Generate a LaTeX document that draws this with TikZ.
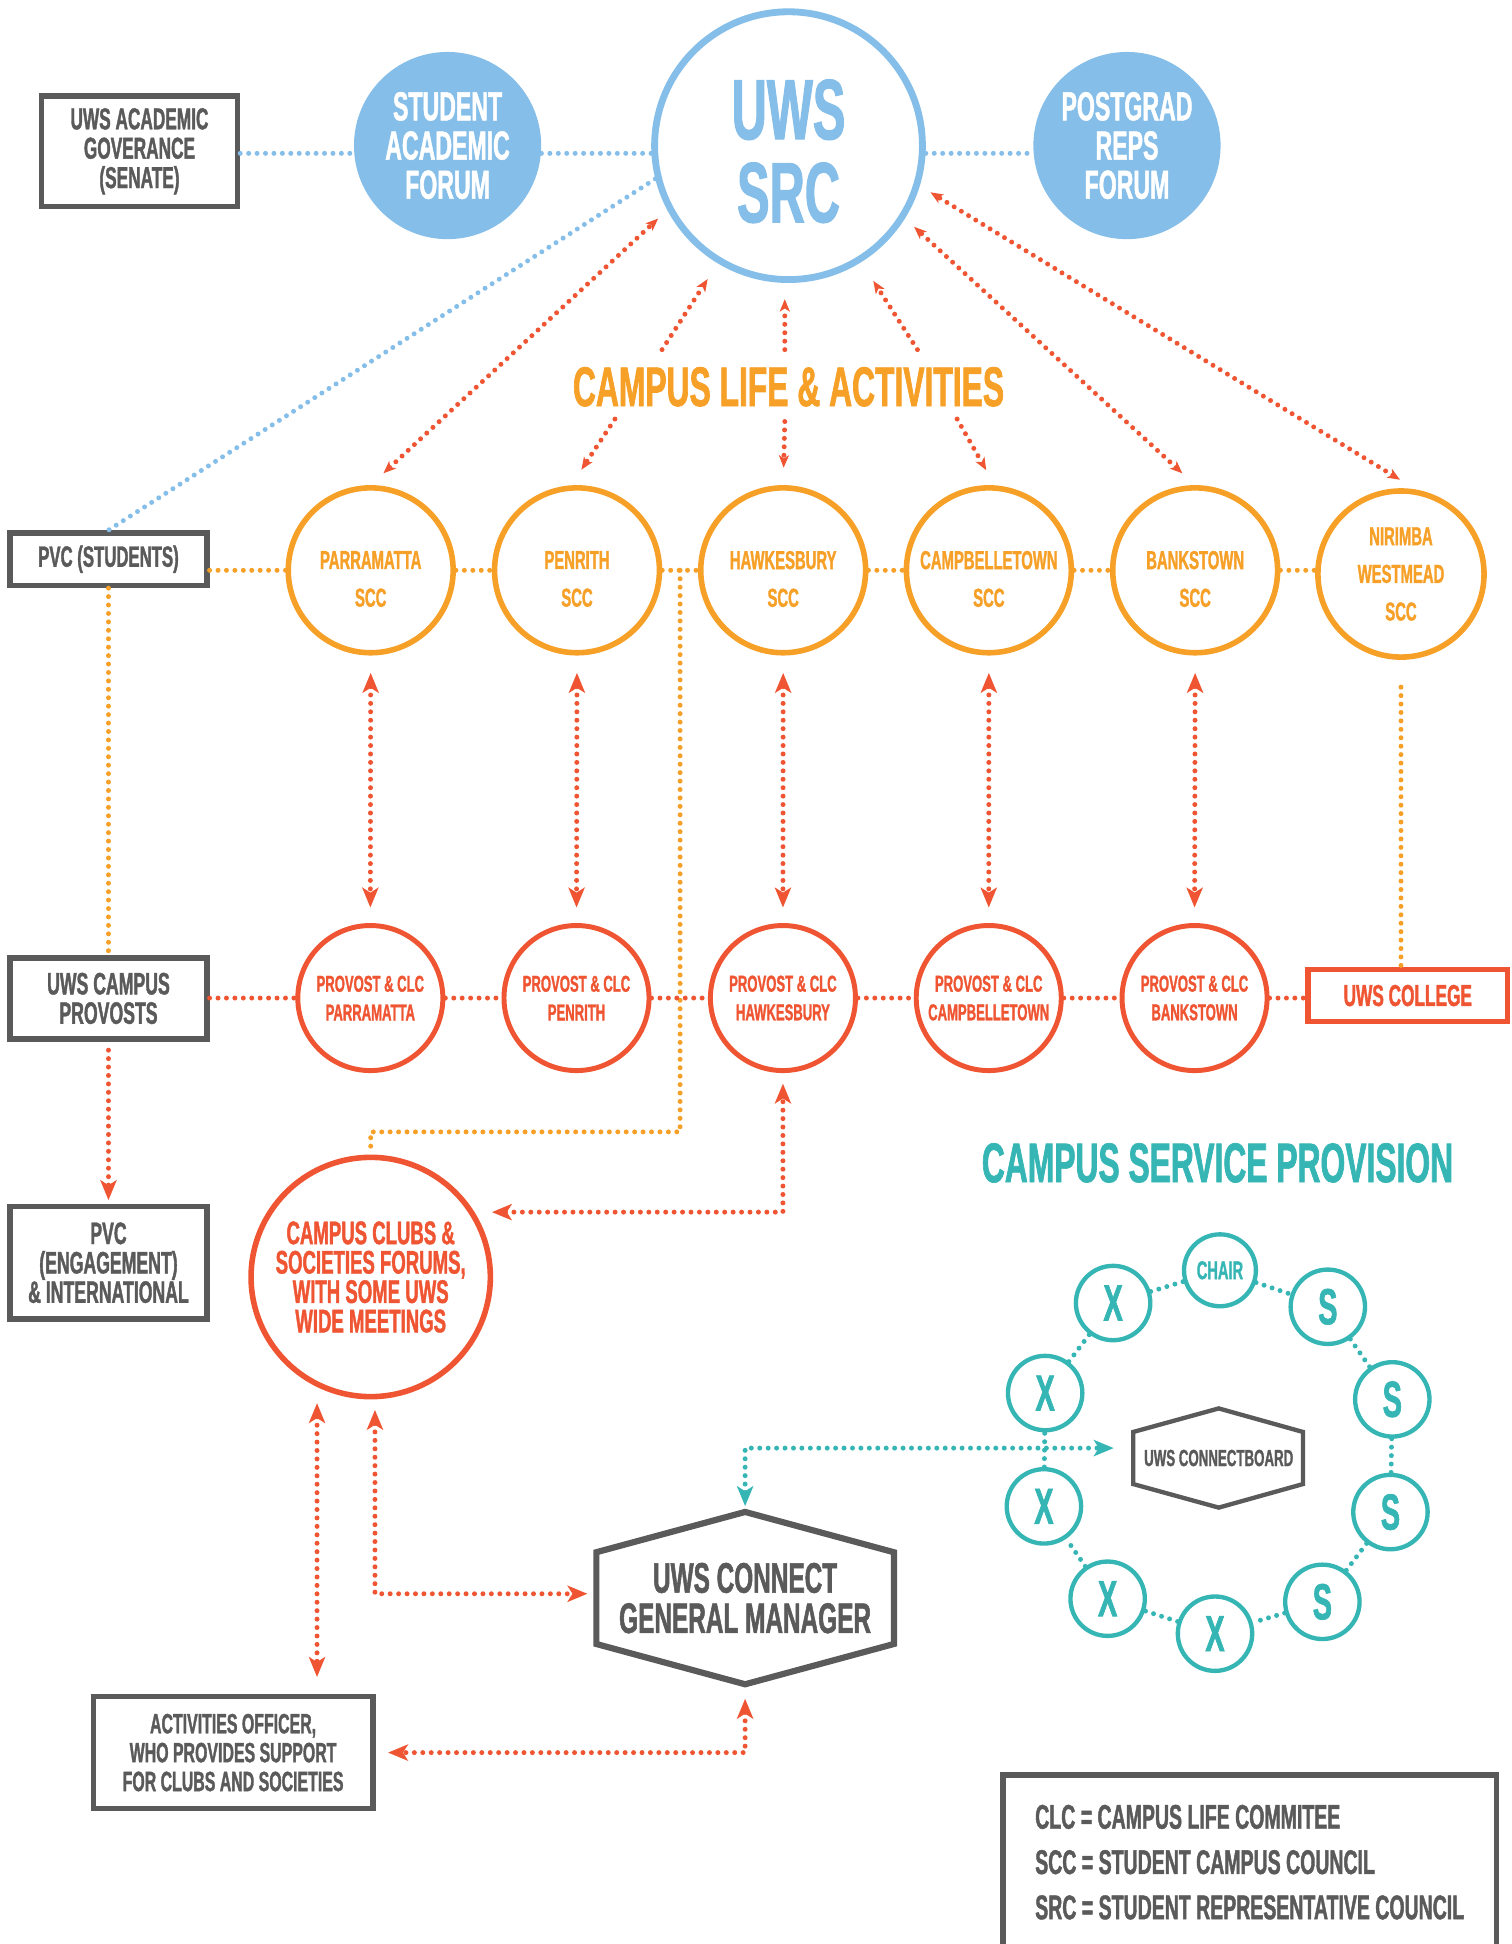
\documentclass[tikz,border=0pt]{standalone}
\usepackage{fontspec}
\setmainfont{Liberation Sans}[FakeStretch=0.57, BoldFeatures={FakeBold=1.2}]
\usetikzlibrary{arrows.meta,calc}
\definecolor{ublue}{HTML}{85BEE8}
\definecolor{uorange}{HTML}{F6A028}
\definecolor{ured}{HTML}{EF5532}
\definecolor{uteal}{HTML}{35B6B5}
\definecolor{ugray}{HTML}{5A5A5A}
\newcommand\myfs[2]{\fontsize{#1}{#2}\selectfont\bfseries}
\tikzset{
  bigtip/.tip={Stealth[length=16pt,width=13pt,inset=4pt]},
  smalltip/.tip={Stealth[length=10pt,width=8pt,inset=2.5pt]},
  dotline/.style={line width=4pt, dash pattern=on 0pt off 6.8pt, line cap=round},
  bdot/.style={dotline, draw=ublue},
  odot/.style={dotline, draw=uorange},
  rdot/.style={dotline, draw=ured},
  tdot/.style={dotline, draw=uteal},
  gbox/.style={draw=ugray, line width=4.5pt, inner sep=0pt, align=center, text=ugray},
  fillc/.style={circle, fill=ublue, minimum size=151pt, inner sep=0pt, align=center, text=white, font={\myfs{32.7}{31.6}}},
  socc/.style={circle, draw=uorange, line width=4.5pt, minimum size=133pt, inner sep=0pt},
  scct/.style={inner sep=0pt, align=center, text=uorange, font={\myfs{21}{30.4}}},
  prov/.style={circle, draw=ured, line width=4pt, minimum size=117pt, inner sep=0pt, align=center, text=ured, font={\myfs{18.5}{23.1}}},
  tc/.style={circle, draw=uteal, line width=3.5pt, minimum size=60pt, inner sep=0pt, text=uteal, font={\myfs{41}{41}}},
  hexline/.style={draw=ugray, line join=miter},
}
\begin{document}
\begin{tikzpicture}[x=1pt,y=-1pt]
\useasboundingbox (0,0) rectangle (1219,1568);
\fill[white] (0,0) rectangle (1219,1568);

% ---- top row
\node[gbox, minimum width=158pt, minimum height=89pt, font={\myfs{24.4}{23.7}}] (senate) at (112.5,122) {UWS ACADEMIC\\GOVERANCE\\(SENATE)};
\node[fillc] (saf) at (361,117.4) {STUDENT\\ACADEMIC\\FORUM};
\node[circle, draw=ublue, line width=5.5pt, minimum size=216pt, inner sep=0pt] (src) at (636,117.5) {};
\node[inner sep=0pt, align=center, text=ublue, font={\myfs{69}{67}}] (srct) at (636,122) {UWS\\SRC};
\node[fillc] (prf) at (909,117.4) {POSTGRAD\\REPS\\FORUM};

\node[text=uorange, inner sep=0pt, font={\myfs{45}{45}}] (cla) at (636,312) {CAMPUS LIFE \& ACTIVITIES};

% ---- SCC row
\node[gbox, minimum width=158.6pt, minimum height=42.3pt, font={\myfs{23.7}{24}}] (pvcs) at (87.5,451) {PVC (STUDENTS)};
\node[socc] (scc1) at (299,460) {};
\node[socc] (scc2) at (465.4,460) {};
\node[socc] (scc3) at (631.7,460) {};
\node[socc] (scc4) at (797.6,460) {};
\node[socc] (scc5) at (964,460) {};
\node[socc, minimum size=134pt] (nir) at (1130,463) {};
\node[scct] (scc1t) at (299,467) {PARRAMATTA\\SCC};
\node[scct] (scc2t) at (465.4,467) {PENRITH\\SCC};
\node[scct] (scc3t) at (631.7,467) {HAWKESBURY\\SCC};
\node[scct] (scc4t) at (797.6,467) {CAMPBELLETOWN\\SCC};
\node[scct] (scc5t) at (964,467) {BANKSTOWN\\SCC};
\node[scct] (nirt) at (1130,463) {NIRIMBA\\WESTMEAD\\SCC};

% ---- provost row
\node[gbox, minimum width=158.6pt, minimum height=65pt, font={\myfs{25}{23.7}}] (provosts) at (87.5,805.3) {UWS CAMPUS\\PROVOSTS};
\node[prov] (pr1) at (298.7,805) {PROVOST \& CLC\\PARRAMATTA};
\node[prov] (pr2) at (465,805) {PROVOST \& CLC\\PENRITH};
\node[prov] (pr3) at (631.5,805) {PROVOST \& CLC\\HAWKESBURY};
\node[prov] (pr4) at (797.5,805) {PROVOST \& CLC\\CAMPBELLETOWN};
\node[prov] (pr5) at (963.5,805) {PROVOST \& CLC\\BANKSTOWN};
\node[draw=ured, line width=4.5pt, inner sep=0pt, minimum width=161pt, minimum height=42pt, text=ured, font={\myfs{24.4}{24}}] (college) at (1135.5,803) {UWS COLLEGE};

% ---- lower left
\node[gbox, minimum width=158.6pt, minimum height=90.5pt, font={\myfs{25}{23.7}}] (pvce) at (87.5,1018.5) {PVC\\(ENGAGEMENT)\\\& INTERNATIONAL};
\node[circle, draw=ured, line width=4.5pt, minimum size=193pt, inner sep=0pt, align=center, text=ured, font={\myfs{26.3}{23.7}}] (clubs) at (299,1030) {CAMPUS CLUBS \&\\SOCIETIES FORUMS,\\WITH SOME UWS\\WIDE MEETINGS};
\node[inner sep=0pt, minimum width=240pt, minimum height=139pt, align=center, text=ugray, font={\myfs{34.5}{32.5}}] (gm) at (601,1289) {UWS CONNECT\\GENERAL MANAGER};
\draw[hexline, line width=5pt] ([shift={(0,-69.5)}]gm.center) -- ([shift={(120,-37)}]gm.center) -- ([shift={(120,37)}]gm.center) -- ([shift={(0,69.5)}]gm.center) -- ([shift={(-120,37)}]gm.center) -- ([shift={(-120,-37)}]gm.center) -- cycle;
\node[gbox, minimum width=225.5pt, minimum height=90.5pt, font={\myfs{22.5}{23.3}}] (act) at (188,1413.6) {ACTIVITIES OFFICER,\\WHO PROVIDES SUPPORT\\FOR CLUBS AND SOCIETIES};

% ---- campus service provision
\node[text=uteal, inner sep=0pt, font={\myfs{45}{45}}] (csp) at (982,938) {CAMPUS SERVICE PROVISION};
\node[inner sep=0pt, minimum width=138pt, minimum height=80pt, text=ugray, font={\myfs{18.8}{19}}] (cb) at (983,1176) {UWS CONNECTBOARD};
\draw[hexline, line width=3.5pt] ([shift={(0,-40)}]cb.center) -- ([shift={(68,-21)}]cb.center) -- ([shift={(68,21)}]cb.center) -- ([shift={(0,40)}]cb.center) -- ([shift={(-69,21)}]cb.center) -- ([shift={(-69,-21)}]cb.center) -- cycle;
\node[tc, minimum size=58pt, font={\myfs{20.7}{20}}] (chair) at (984,1024.6) {CHAIR};
\node[tc] (s1) at (1071,1054) {S};
\node[tc] (s2) at (1123,1128.7) {S};
\node[tc] (s3) at (1121.5,1219.6) {S};
\node[tc] (s4) at (1066.6,1292) {S};
\node[tc] (x5) at (980,1317.7) {X};
\node[tc] (x4) at (893.4,1289.5) {X};
\node[tc] (x3) at (842,1215) {X};
\node[tc] (x2) at (843,1123.6) {X};
\node[tc] (x1) at (897.8,1051) {X};

\node[draw=ugray, line width=4.5pt, inner sep=0pt, minimum width=398pt, minimum height=141pt, align=left, text=ugray, font={\myfs{27.6}{36.5}}] (legend) at (1008,1502) {CLC = CAMPUS LIFE COMMITEE\\SCC = STUDENT CAMPUS COUNCIL\\SRC = STUDENT REPRESENTATIVE COUNCIL};

% ---- blue connectors
\draw[bdot] (senate.east |- 0,123.7) -- (saf.west |- 0,123.7);
\draw[bdot] (saf.east |- 0,123.7) -- (src.west |- 0,123.7);
\draw[bdot] (src.east |- 0,123.7) -- (prf.west |- 0,123.7);
\draw[bdot] (src.194) -- (pvcs.north);

% ---- orange connectors
\draw[odot] (pvcs.east |- scc1.west) -- (scc1.west);
\draw[odot] (scc1.east) -- (scc2.west);
\draw[odot] (scc2.east) -- (scc3.west);
\draw[odot] (scc3.east) -- (scc4.west);
\draw[odot] (scc4.east) -- (scc5.west);
\draw[odot] (scc5.east) -- (scc5.east -| nir.west);
\draw[odot] (pvcs.south) -- (provosts.north);
\draw[odot] ([yshift=-22pt]nir.south) -- (nir.south |- college.north);
\coordinate (tap) at ($(scc2.east)!0.5!(scc3.west)$);
\draw[odot] (tap) |- ([yshift=18.3pt]clubs.north) -- ([yshift=6.3pt]clubs.north);

% ---- red connectors
\draw[rdot] (provosts.east |- pr1.west) -- (pr1.west);
\draw[rdot] (pr1.east) -- (pr2.west);
\draw[rdot] (pr2.east) -- (pr3.west);
\draw[rdot] (pr3.east) -- (pr4.west);
\draw[rdot] (pr4.east) -- (pr5.west);
\draw[rdot] (pr5.east) -- (pr5.east -| college.west);
\draw[rdot, -bigtip, shorten >=3pt] ([yshift=-7pt]provosts.south) -- (pvce.north);

\foreach \i in {1,...,5}{
  \draw[rdot, bigtip-bigtip, shorten <=14pt, shorten >=12.5pt] (scc\i.south) -- (pr\i.north);
}

\draw[rdot, smalltip-smalltip, shorten <=14pt, shorten >=10pt] (scc1.north) -- (src.208);
\draw[rdot, smalltip-smalltip, shorten <=14pt, shorten >=10pt] (scc5.north) -- (src.-32);
\draw[rdot, smalltip-smalltip, shorten <=15pt, shorten >=10pt] (nir.80) -- (src.-17);

\draw[rdot, -smalltip, shorten >=15pt] ([shift={(-102,-30)}]cla.center) -- (src.239);
\draw[rdot, -smalltip, shorten >=13pt] ([shift={(-3,-30)}]cla.center) -- ([xshift=-3pt]src.south);
\draw[rdot, -smalltip, shorten >=18pt] ([shift={(104,-30)}]cla.center) -- (src.-58);
\draw[rdot, -smalltip, shorten >=15pt] ([shift={(-140,26)}]cla.center) -- (scc2.94);
\draw[rdot, -smalltip, shorten >=14pt] ([shift={(-3,28)}]cla.center) -- (scc3.north);
\draw[rdot, -smalltip, shorten >=14pt] ([shift={(136,26)}]cla.center) -- (scc4.86);

\draw[rdot, bigtip-bigtip, shorten <=14pt, shorten >=8.5pt] (clubs.32) -| (pr3.south);
\draw[rdot, bigtip-bigtip, shorten <=13pt, shorten >=13.5pt] (clubs.244) -- (clubs.244 |- act.north);
\draw[rdot, bigtip-bigtip, shorten <=8.5pt, shorten >=7pt] (clubs.272) |- ([yshift=3.5pt]gm.west);
\draw[rdot, bigtip-bigtip, shorten <=11.5pt, shorten >=10pt] (gm.south) |- (act.east);

% ---- teal connectors
\draw[tdot, bigtip-bigtip, shorten <=4.5pt, shorten >=15.5pt] (gm.north) |- ([yshift=8pt]cb.west);
\draw[tdot] (chair) -- (s1);
\draw[tdot] (s1) -- (s2);
\draw[tdot] (s2) -- (s3);
\draw[tdot] (s3) -- (s4);
\draw[tdot] (s4) -- (x5);
\draw[tdot] (x5) -- (x4);
\draw[tdot] (x4) -- (x3);
\draw[tdot] (x3) -- (x2);
\draw[tdot] (x2) -- (x1);
\draw[tdot] (x1) -- (chair);
\end{tikzpicture}
\end{document}
